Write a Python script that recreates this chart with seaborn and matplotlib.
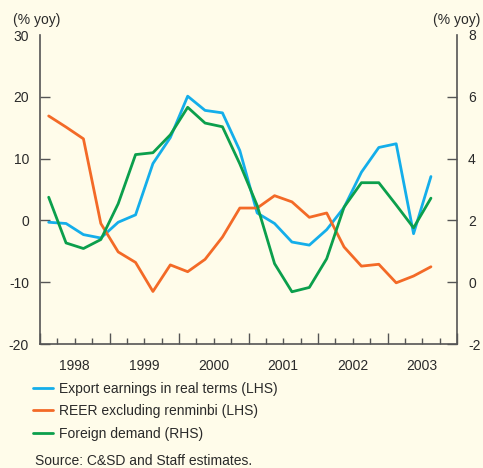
import pandas as pd
import matplotlib.pyplot as plt
import seaborn as sns
from matplotlib.lines import Line2D

# quarterly data, 1998Q1 - 2003Q3
quarters = [f"{y}Q{q}" for y in range(1998, 2004) for q in range(1, 5)][:23]
export_earnings = [-0.3, -0.5, -2.3, -2.85, -0.3, 0.9, 9.2, 13.4, 20.1, 17.8, 17.4, 11.3,
                   1.2, -0.5, -3.5, -4.0, -1.5, 2.1, 7.8, 11.8, 12.4, -2.15, 7.1]
reer_ex_rmb = [16.9, 15.1, 13.2, -0.5, -5.1, -6.8, -11.5, -7.2, -8.3, -6.3, -2.7, 2.0,
               2.0, 4.0, 3.0, 0.5, 1.2, -4.3, -7.4, -7.1, -10.1, -9.0, -7.5]
foreign_demand = [2.75, 1.27, 1.09, 1.38, 2.54, 4.13, 4.19, 4.77, 5.66, 5.15, 5.03, 3.83,
                  2.48, 0.6, -0.31, -0.17, 0.76, 2.43, 3.22, 3.22, 2.5, 1.76, 2.72]
years = [1998, 1999, 2000, 2001, 2002, 2003]
left_ticks = [-20, -10, 0, 10, 20, 30]
right_ticks = [-2, 0, 2, 4, 6, 8]
labels = ["Export earnings in real terms (LHS)", "REER excluding renminbi (LHS)", "Foreign demand (RHS)"]

BG = "#fffcea"
BLUE = "#14aeea"
ORANGE = "#f36a27"
GREEN = "#0b9f4c"
AXC = "#555555"
TXT = "#2a2a2a"

df = pd.DataFrame({"quarter": quarters, "export": export_earnings,
                   "reer": reer_ex_rmb, "demand": foreign_demand})
df["t"] = df["quarter"].apply(lambda s: int(s[:4]) + (int(s[-1]) - 0.5) / 4)

sns.set_style("ticks")
plt.rcParams["font.family"] = ["Liberation Sans", "DejaVu Sans"]
plt.rcParams["axes.unicode_minus"] = False

fig = plt.figure(figsize=(4.83, 4.68), dpi=100, facecolor=BG)
ax = fig.add_axes([40 / 483, 1 - 344 / 468, 417 / 483, 309 / 468])
ax.set_facecolor(BG)
ax2 = ax.twinx()

sns.lineplot(data=df, x="t", y="export", ax=ax, color=BLUE, linewidth=2.0)
sns.lineplot(data=df, x="t", y="reer", ax=ax, color=ORANGE, linewidth=2.0)
sns.lineplot(data=df, x="t", y="demand", ax=ax2, color=GREEN, linewidth=2.0)

ax.set_xlim(1998, 2004)
ax.set_ylim(-20, 30)
ax2.set_ylim(-2, 8)
ax.set_yticks(left_ticks)
ax2.set_yticks(right_ticks)
ax.set_xlabel("")
ax.set_ylabel("")
ax2.set_ylabel("")

# year ticks at boundaries, year labels in the middle of each year
ax.set_xticks(years + [2004], labels=[])
ax.set_xticks([y + q / 4 for y in years for q in (1, 2, 3)], minor=True, labels=[])
for y in years:
    ax.text(y + 0.5, -23.5, str(y), ha="center", va="center", fontsize=10, color=TXT)

for a in (ax, ax2):
    for s in a.spines.values():
        s.set_color(AXC)
        s.set_linewidth(1.2)
    a.spines["top"].set_visible(False)
ax.spines["right"].set_visible(False)
ax2.spines["left"].set_visible(False)
ax2.spines["bottom"].set_visible(False)

ax.tick_params(axis="y", direction="in", length=7, width=1, color=AXC, labelsize=10,
               labelcolor=TXT, pad=8)
ax2.tick_params(axis="y", direction="in", length=7, width=1, color=AXC, labelsize=10,
                labelcolor=TXT, pad=8)
ax.tick_params(axis="x", which="major", direction="in", length=8, width=1, color=AXC)
ax.tick_params(axis="x", which="minor", direction="in", length=4, width=1, color=AXC)
ax.yaxis.get_major_ticks()[-1].tick1line.set_visible(False)
ax2.yaxis.get_major_ticks()[-1].tick2line.set_visible(False)

fig.text(13 / 483, 1 - 20 / 468, "(% yoy)", fontsize=10, color=TXT, va="center", ha="left")
fig.text(480 / 483, 1 - 20 / 468, "(% yoy)", fontsize=10, color=TXT, va="center", ha="right")

handles = [Line2D([], [], color=c, linewidth=2.0) for c in (BLUE, ORANGE, GREEN)]
fig.legend(handles, labels, loc="upper left", bbox_to_anchor=(27 / 483, 1 - 376 / 468),
           frameon=False, fontsize=10, handlelength=1.45, handletextpad=0.45,
           labelspacing=0.62, labelcolor=TXT, borderaxespad=0)
fig.text(35 / 483, 1 - 461 / 468, "Source: C&SD and Staff estimates.", fontsize=10,
         color=TXT, va="center", ha="left")

fig.savefig("out.png", dpi=100, facecolor=BG)
